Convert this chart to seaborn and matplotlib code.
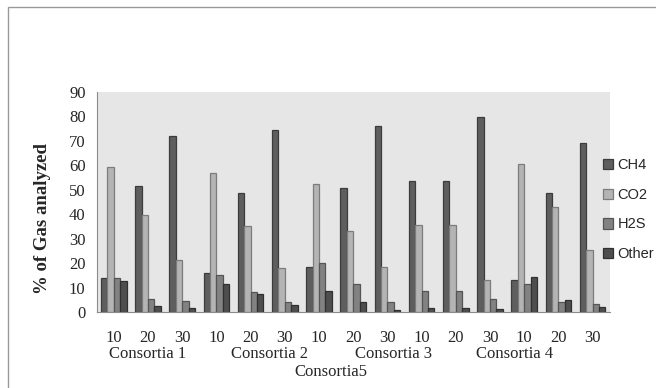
import matplotlib
matplotlib.use("Agg")
import matplotlib.pyplot as plt
import seaborn as sns
import pandas as pd
from matplotlib.patches import Rectangle, Patch

# Sample groups: five consortia, each sampled at 10, 20 and 30
consortia = ["Consortia 1", "Consortia 2", "Consortia 3", "Consortia 4", "Consortia5"]
levels = ["10", "20", "30"]
gases = ["CH4", "CO2", "H2S", "Other"]

ch4 = [14.0, 51.7, 72.1, 15.9, 48.5, 74.2, 18.5, 50.9, 76.1, 53.4, 53.4, 79.7, 13.1, 48.5, 68.9]
co2 = [59.2, 39.7, 21.5, 57.0, 35.3, 17.9, 52.5, 33.0, 18.5, 35.7, 35.7, 13.0, 60.5, 42.8, 25.5]
h2s = [14.0, 5.6, 4.7, 15.4, 8.3, 4.3, 20.2, 11.4, 4.3, 8.8, 8.8, 5.6, 11.4, 4.3, 3.4]
other = [12.6, 2.4, 1.6, 11.4, 7.3, 3.0, 8.8, 4.3, 0.9, 1.6, 1.6, 1.2, 14.5, 4.9, 2.0]

fills = ["#5e5e5e", "#b4b4b4", "#828282", "#4e4e4e"]
edges = ["#3c3c3c", "#7c7c7c", "#555555", "#303030"]

groups = [f"{c}|{lv}" for c in consortia for lv in levels]
rows = []
for gas, vals in zip(gases, [ch4, co2, h2s, other]):
    for g, v in zip(groups, vals):
        rows.append({"group": g, "gas": gas, "value": v})
df = pd.DataFrame(rows)

sns.set_style("white")
plt.rcParams["font.family"] = ["Liberation Serif", "DejaVu Serif"]

fig = plt.figure(figsize=(6.56, 3.88), dpi=100)
ax = fig.add_axes([96.7 / 656, 1 - 312.3 / 388, (609.7 - 96.7) / 656, (312.3 - 91.7) / 388])

sns.barplot(data=df, x="group", y="value", hue="gas", order=groups, hue_order=gases,
            palette=fills, width=0.75, ax=ax, legend=False, linewidth=0.9, saturation=1)

for cont, gas_i in zip(ax.containers, range(len(gases))):
    for p in cont:
        p.set_edgecolor(edges[gas_i])

ax.set_facecolor("#e6e6e6")
ax.set_ylim(0, 90)
ax.set_xlim(-0.5, len(groups) - 0.5)
ax.set_yticks(range(0, 91, 10))
ax.tick_params(axis="y", direction="out", length=5, width=0.8, color="#8c8c8c",
               labelsize=12, pad=3)
ax.set_xticks(range(len(groups)))
ax.set_xticklabels([g.split("|")[1] for g in groups], fontsize=12)
ax.tick_params(axis="x", length=0, pad=13)
ax.set_xticks([i - 0.5 for i in range(len(groups) + 1)], minor=True)
ax.tick_params(axis="x", which="minor", direction="out", length=5, width=0.8, color="#8c8c8c")
ax.set_xlabel("")
ax.set_ylabel("")
for s in ["top", "right"]:
    ax.spines[s].set_visible(False)
for s in ["left", "bottom"]:
    ax.spines[s].set_color("#8c8c8c")
    ax.spines[s].set_linewidth(0.8)

# Consortium names below the level labels
trans = ax.get_xaxis_transform()
name_pos = [1.0, 4.54, 8.17, 11.73]
for nm, xp in zip(consortia[:4], name_pos):
    ax.text(xp, 1 - (354 - 91.7) / (312.3 - 91.7), nm, transform=trans,
            ha="center", va="center", fontsize=12)
ax.text(6.35, 1 - (372 - 91.7) / (312.3 - 91.7), consortia[4], transform=trans,
        ha="center", va="center", fontsize=12)

fig.text(42.7 / 656, 1 - 218.5 / 388, "% of Gas analyzed", rotation=90,
         ha="center", va="center", fontsize=13.5, fontweight="bold")

handles = [Patch(facecolor=f, edgecolor=e, linewidth=0.9) for f, e in zip(fills, edges)]
leg = fig.legend(handles, gases, loc="upper left", bbox_to_anchor=(603 / 656, 1 - 158 / 388),
                 frameon=False, prop={"family": "Liberation Sans", "size": 10.5},
                 handlelength=0.7, handleheight=0.7, handletextpad=0.3,
                 labelspacing=1.08, borderaxespad=0, borderpad=0)

# Outer chart frame
fig.patches.append(Rectangle((8 / 656, -0.1), 1.2, 1 - 7 / 388 + 0.1, transform=fig.transFigure,
                             fill=False, edgecolor="#9a9a9a", linewidth=1.0))

fig.savefig("out.png", dpi=100)
